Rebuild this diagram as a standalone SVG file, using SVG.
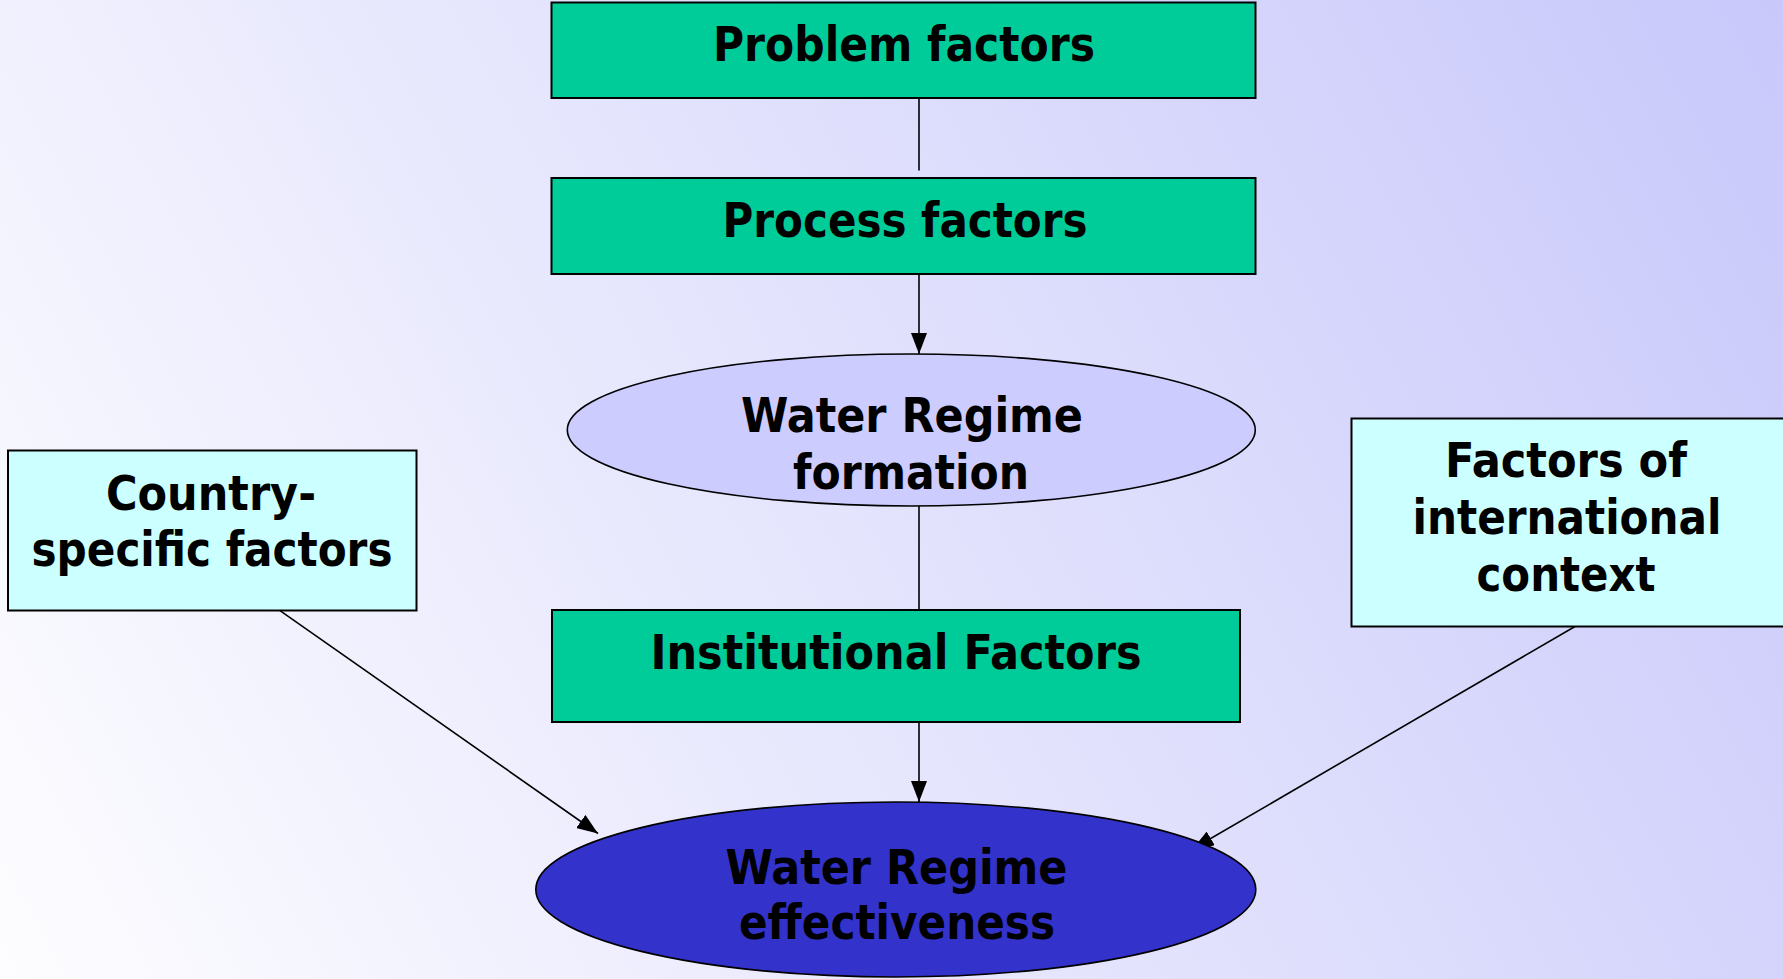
<svg xmlns="http://www.w3.org/2000/svg" width="1783" height="979" viewBox="0 0 1783 979">
<defs>
<linearGradient id="bg" gradientUnits="userSpaceOnUse" x1="0" y1="979" x2="1783" y2="0">
<stop offset="0" stop-color="#FDFDFF"/>
<stop offset="1" stop-color="#C8C8FB"/>
</linearGradient>
<marker id="arr" markerUnits="userSpaceOnUse" markerWidth="22" markerHeight="16" refX="21" refY="8" orient="auto">
<path d="M0,0 L21,8 L0,16 Z" fill="#000"/>
</marker>
<style>
.box{stroke:#000;stroke-width:2}
.green{fill:#00CC99}
.cyan{fill:#CCFFFF}
.t{font-family:"DejaVu Sans Condensed","DejaVu Sans",sans-serif;font-weight:bold;font-size:48px;fill:#000;text-anchor:middle}
.c{stroke:#000;stroke-width:1.6;fill:none}
</style>
</defs>
<rect width="1783" height="979" fill="url(#bg)"/>
<g id="connectors">
<line class="c" x1="919" y1="98" x2="919" y2="170.5"/>
<line class="c" x1="919" y1="274" x2="919" y2="354" marker-end="url(#arr)"/>
<line class="c" x1="919" y1="498" x2="919" y2="610"/>
<line class="c" x1="919" y1="722" x2="919" y2="802" marker-end="url(#arr)"/>
<line class="c" x1="280" y1="610.6" x2="598" y2="833.5" marker-end="url(#arr)"/>
<line class="c" x1="1575" y1="626.5" x2="1192.6" y2="849" marker-end="url(#arr)"/>
</g>
<g id="problem">
<rect class="box green" x="551.5" y="2.5" width="704" height="95.5"/>
<text class="t" x="904" y="61" textLength="382" lengthAdjust="spacingAndGlyphs">Problem factors</text>
</g>
<g id="process">
<rect class="box green" x="551.5" y="178" width="704" height="96"/>
<text class="t" x="905" y="237" textLength="365" lengthAdjust="spacingAndGlyphs">Process factors</text>
</g>
<g id="formation">
<ellipse cx="911.3" cy="430" rx="344" ry="76" fill="#CCCCFF" stroke="#000" stroke-width="1.6"/>
<text class="t" x="912" y="432" textLength="342" lengthAdjust="spacingAndGlyphs">Water Regime</text>
<text class="t" x="911" y="489" textLength="236" lengthAdjust="spacingAndGlyphs">formation</text>
</g>
<g id="institutional">
<rect class="box green" x="552" y="610" width="688" height="112"/>
<text class="t" x="896" y="669" textLength="491" lengthAdjust="spacingAndGlyphs">Institutional Factors</text>
</g>
<g id="effectiveness">
<ellipse cx="895.8" cy="889.5" rx="360" ry="87.5" fill="#3333CC" stroke="#000" stroke-width="1.6"/>
<text class="t" x="896.5" y="884" textLength="342" lengthAdjust="spacingAndGlyphs">Water Regime</text>
<text class="t" x="897" y="939" textLength="316" lengthAdjust="spacingAndGlyphs">effectiveness</text>
</g>
<g id="country">
<rect class="box cyan" x="8" y="450.5" width="408.5" height="160"/>
<text class="t" x="211" y="510" textLength="210" lengthAdjust="spacingAndGlyphs">Country-</text>
<text class="t" x="212" y="566" textLength="361" lengthAdjust="spacingAndGlyphs">specific factors</text>
</g>
<g id="international">
<rect class="box cyan" x="1351.5" y="418.5" width="440" height="208"/>
<text class="t" x="1566" y="477" textLength="242" lengthAdjust="spacingAndGlyphs">Factors of</text>
<text class="t" x="1567" y="534" textLength="309" lengthAdjust="spacingAndGlyphs">international</text>
<text class="t" x="1566" y="591" textLength="179" lengthAdjust="spacingAndGlyphs">context</text>
</g>
</svg>
